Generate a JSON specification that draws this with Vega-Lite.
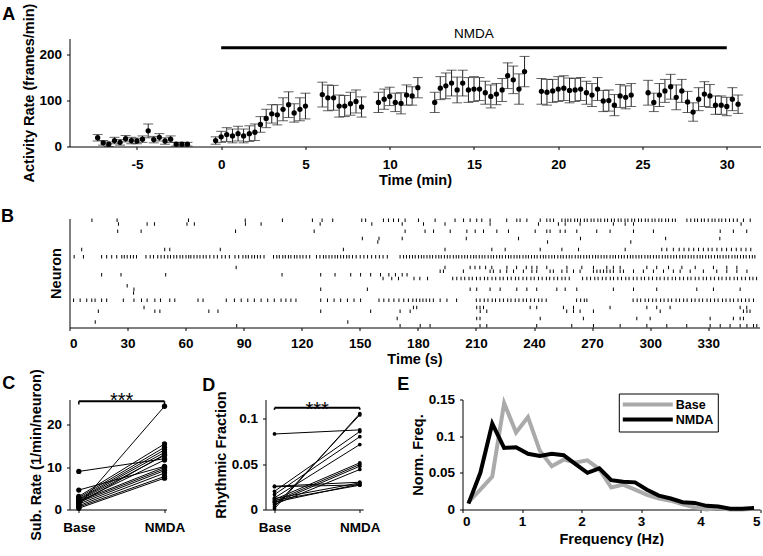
{
"$schema": "https://vega.github.io/schema/vega-lite/v6.json",
"padding": {"left": 0.5, "top": 2.5, "right": 0, "bottom": 0},
"bounds": "flush",
"spacing": 72,
"resolve": {"legend": {"color": "independent"}},
"config": {
 "view": {"stroke": null},
 "font": "Liberation Sans",
 "axis": {"labelFont": "Liberation Sans", "labelFontSize": 13.5, "labelFontWeight": "bold", "labelColor": "#000", "titleFont": "Liberation Sans", "titleFontSize": 14.5, "titleFontWeight": "bold", "titleColor": "#000", "domainColor": "#000", "tickColor": "#000", "tickSize": 3, "grid": false, "labelPadding": 5, "titlePadding": 3, "labelOverlap": false},
 "text": {"font": "Liberation Sans", "color": "#000"}
},
"datasets": {
 "actA": [
  {"t":-7.33,"v":19,"e":7},{"t":-7.0,"v":8,"e":5},{"t":-6.67,"v":5,"e":5},{"t":-6.33,"v":13,"e":7},{"t":-6.0,"v":9,"e":6},{"t":-5.67,"v":17,"e":7},{"t":-5.33,"v":13,"e":7},{"t":-5.0,"v":12,"e":6},{"t":-4.67,"v":16,"e":7},{"t":-4.33,"v":34,"e":15},{"t":-4.0,"v":15,"e":7},{"t":-3.67,"v":20,"e":8},{"t":-3.33,"v":12,"e":7},{"t":-3.0,"v":16,"e":7},{"t":-2.67,"v":5,"e":4},{"t":-2.33,"v":5,"e":4},{"t":-2.0,"v":5,"e":4},
  {"t":-0.33,"v":13,"e":8},{"t":0,"v":21,"e":12},{"t":0.33,"v":26,"e":15},{"t":0.67,"v":23,"e":15},{"t":1.0,"v":28,"e":16},{"t":1.33,"v":23,"e":15},{"t":1.67,"v":28,"e":17},{"t":2.0,"v":31,"e":18},{"t":2.33,"v":48,"e":17},{"t":2.67,"v":61,"e":20},{"t":3.0,"v":71,"e":20},{"t":3.33,"v":69,"e":22},{"t":3.67,"v":81,"e":25},{"t":4.0,"v":91,"e":28},{"t":4.33,"v":73,"e":20},{"t":4.67,"v":81,"e":25},{"t":5.0,"v":88,"e":28},
  {"t":6.0,"v":113,"e":27},{"t":6.33,"v":106,"e":28},{"t":6.67,"v":106,"e":27},{"t":7.0,"v":88,"e":24},{"t":7.33,"v":88,"e":23},{"t":7.67,"v":93,"e":25},{"t":8.0,"v":98,"e":25},{"t":8.33,"v":86,"e":22},
  {"t":9.33,"v":96,"e":22},{"t":9.67,"v":103,"e":22},{"t":10.0,"v":109,"e":20},{"t":10.33,"v":96,"e":20},{"t":10.67,"v":94,"e":23},{"t":11.0,"v":112,"e":22},{"t":11.33,"v":110,"e":20},{"t":11.67,"v":128,"e":22},
  {"t":12.67,"v":96,"e":22},{"t":13.0,"v":127,"e":25},{"t":13.33,"v":132,"e":28},{"t":13.67,"v":138,"e":28},{"t":14.0,"v":123,"e":28},{"t":14.33,"v":138,"e":28},{"t":14.67,"v":123,"e":27},{"t":15.0,"v":125,"e":27},{"t":15.33,"v":125,"e":25},{"t":15.67,"v":117,"e":25},{"t":16.0,"v":109,"e":25},{"t":16.33,"v":114,"e":23},{"t":16.67,"v":123,"e":25},{"t":17.0,"v":154,"e":28},{"t":17.33,"v":145,"e":30},{"t":17.67,"v":125,"e":33},{"t":18.0,"v":163,"e":33},
  {"t":19.0,"v":120,"e":28},{"t":19.33,"v":118,"e":28},{"t":19.67,"v":121,"e":25},{"t":20.0,"v":125,"e":27},{"t":20.33,"v":127,"e":27},{"t":20.67,"v":122,"e":27},{"t":21.0,"v":123,"e":25},{"t":21.33,"v":125,"e":25},{"t":21.67,"v":117,"e":25},{"t":22.0,"v":112,"e":25},{"t":22.33,"v":125,"e":25},{"t":22.67,"v":99,"e":23},{"t":23.0,"v":100,"e":23},{"t":23.33,"v":90,"e":23},{"t":23.67,"v":110,"e":25},{"t":24.0,"v":107,"e":25},{"t":24.33,"v":112,"e":25},
  {"t":25.33,"v":117,"e":27},{"t":25.67,"v":96,"e":20},{"t":26.0,"v":112,"e":25},{"t":26.33,"v":121,"e":25},{"t":26.67,"v":130,"e":27},{"t":27.0,"v":107,"e":27},{"t":27.33,"v":121,"e":25},{"t":27.67,"v":97,"e":23},{"t":28.0,"v":75,"e":20},{"t":28.33,"v":103,"e":25},{"t":28.67,"v":114,"e":27},{"t":29.0,"v":110,"e":25},{"t":29.33,"v":90,"e":20},{"t":29.67,"v":90,"e":20},{"t":30.0,"v":87,"e":20},{"t":30.33,"v":103,"e":25},{"t":30.67,"v":92,"e":20}
 ],
 "spikes": [
  {"t":11.6,"n":0},{"t":24.6,"n":0},{"t":61.5,"n":0},{"t":90.8,"n":0},{"t":110,"n":0},{"t":125.5,"n":0},{"t":130.5,"n":0},{"t":136,"n":0},{"t":151,"n":0},{"t":153,"n":0},{"t":162.2,"n":0},{"t":164.8,"n":0},{"t":167.4,"n":0},{"t":170,"n":0},{"t":173.4,"n":0},{"t":180.3,"n":0},{"t":188.9,"n":0},{"t":199.2,"n":0},{"t":203.6,"n":0},{"t":207,"n":0},{"t":210.4,"n":0},{"t":213,"n":0},{"t":217.3,"n":0},{"t":225.9,"n":0},{"t":231.1,"n":0},{"t":232.8,"n":0},{"t":236.3,"n":0},{"t":243.2,"n":0},{"t":246.6,"n":0},{"t":248.3,"n":0},{"t":250.1,"n":0},{"t":254.4,"n":0},{"t":256.1,"n":0},{"t":257.5,"n":0},{"t":259,"n":0},{"t":261,"n":0},{"t":262.5,"n":0},{"t":264,"n":0},{"t":266,"n":0},{"t":267.5,"n":0},{"t":269.5,"n":0},{"t":271,"n":0},{"t":273,"n":0},{"t":274.5,"n":0},{"t":276.5,"n":0},{"t":278,"n":0},{"t":280,"n":0},{"t":281.5,"n":0},{"t":283.5,"n":0},{"t":285,"n":0},{"t":287,"n":0},{"t":288.5,"n":0},{"t":290.5,"n":0},{"t":292,"n":0},{"t":294,"n":0},{"t":295.5,"n":0},{"t":297.5,"n":0},{"t":299,"n":0},{"t":301,"n":0},{"t":302.5,"n":0},{"t":304.5,"n":0},{"t":306,"n":0},{"t":308,"n":0},{"t":309.5,"n":0},{"t":311.5,"n":0},{"t":313,"n":0},{"t":319,"n":0},{"t":321,"n":0},{"t":323,"n":0},{"t":324.5,"n":0},{"t":326.5,"n":0},{"t":328,"n":0},{"t":330,"n":0},{"t":332,"n":0},{"t":333.5,"n":0},{"t":335.5,"n":0},{"t":337,"n":0},{"t":339,"n":0},{"t":341,"n":0},{"t":343,"n":0},{"t":345,"n":0},{"t":348.2,"n":0},{"t":351.7,"n":0},
  {"t":25.3,"n":1},{"t":40.1,"n":1},{"t":43.9,"n":1},{"t":60.7,"n":1},{"t":64.5,"n":1},{"t":90.9,"n":1},{"t":99,"n":1},{"t":129.5,"n":1},{"t":156.2,"n":1},{"t":171.9,"n":1},{"t":182.9,"n":1},{"t":194,"n":1},{"t":217.3,"n":1},{"t":242.3,"n":1},{"t":252.6,"n":1},{"t":256.1,"n":1},{"t":263.8,"n":1},{"t":281,"n":1},{"t":287.1,"n":1},{"t":291.4,"n":1},{"t":347,"n":1},
  {"t":24.9,"n":3},{"t":37,"n":3},{"t":85.8,"n":3},{"t":126.4,"n":3},{"t":173.4,"n":3},{"t":183.7,"n":3},{"t":188.1,"n":3},{"t":196.7,"n":3},{"t":205.3,"n":3},{"t":209.6,"n":3},{"t":213.9,"n":3},{"t":220.8,"n":3},{"t":226.8,"n":3},{"t":240.6,"n":3},{"t":246.6,"n":3},{"t":248.3,"n":3},{"t":253.5,"n":3},{"t":256.1,"n":3},{"t":262.1,"n":3},{"t":272.4,"n":3},{"t":279.3,"n":3},{"t":291.4,"n":3},{"t":301.7,"n":3},{"t":336.2,"n":3},{"t":343,"n":3},{"t":349.9,"n":3},
  {"t":151.3,"n":5},{"t":159.9,"n":5},{"t":171.9,"n":5},{"t":205,"n":5},{"t":232,"n":5},{"t":264,"n":5},{"t":308,"n":5},{"t":336,"n":5},
  {"t":159.3,"n":6},{"t":247,"n":6},{"t":290,"n":6},
  {"t":6.3,"n":8},{"t":49.2,"n":8},{"t":51.8,"n":8},{"t":77.9,"n":8},{"t":141.5,"n":8},{"t":194,"n":8},{"t":218.2,"n":8},{"t":225.1,"n":8},{"t":243.2,"n":8},{"t":254.4,"n":8},{"t":263,"n":8},{"t":287.1,"n":8},{"t":306,"n":8},{"t":308.6,"n":8},{"t":312,"n":8},{"t":315,"n":8},{"t":317.5,"n":8},{"t":320,"n":8},{"t":322.5,"n":8},{"t":325,"n":8},{"t":327.5,"n":8},{"t":330,"n":8},{"t":332,"n":8},{"t":334.5,"n":8},{"t":337,"n":8},{"t":339.5,"n":8},{"t":342,"n":8},{"t":344.5,"n":8},{"t":347,"n":8},{"t":349.5,"n":8},{"t":352,"n":8},
  {"t":2.4,"n":10},{"t":7.2,"n":10},{"t":16.6,"n":10},{"t":19.2,"n":10},{"t":21.8,"n":10},{"t":24.4,"n":10},{"t":27,"n":10},{"t":28.3,"n":10},{"t":29.8,"n":10},{"t":31.5,"n":10},{"t":33,"n":10},{"t":34.6,"n":10},{"t":39.5,"n":10},{"t":41.7,"n":10},{"t":43.4,"n":10},{"t":45.6,"n":10},{"t":47.3,"n":10},{"t":49,"n":10},{"t":50.8,"n":10},{"t":52.2,"n":10},{"t":53.9,"n":10},{"t":55.4,"n":10},{"t":57.1,"n":10},{"t":58.5,"n":10},{"t":60.2,"n":10},{"t":61.6,"n":10},{"t":62.7,"n":10},{"t":64.3,"n":10},{"t":65.9,"n":10},{"t":67.4,"n":10},{"t":69.1,"n":10},{"t":70.6,"n":10},{"t":72.5,"n":10},{"t":74.6,"n":10},{"t":76.4,"n":10},{"t":78.7,"n":10},{"t":80.5,"n":10},{"t":82.6,"n":10},{"t":85.5,"n":10},{"t":87.4,"n":10},{"t":89.6,"n":10},{"t":91.1,"n":10},{"t":92.4,"n":10},{"t":94.2,"n":10},{"t":95.6,"n":10},{"t":97.1,"n":10},{"t":98.6,"n":10},{"t":100.5,"n":10},{"t":105.4,"n":10},{"t":107.1,"n":10},{"t":108.4,"n":10},{"t":110.2,"n":10},{"t":111.5,"n":10},{"t":113.1,"n":10},{"t":114.4,"n":10},{"t":116.2,"n":10},{"t":117.5,"n":10},{"t":119.1,"n":10},{"t":120.6,"n":10},{"t":122.3,"n":10},{"t":124.1,"n":10},{"t":127.6,"n":10},{"t":129.4,"n":10},{"t":131.2,"n":10},{"t":132.5,"n":10},{"t":134.1,"n":10},{"t":135.6,"n":10},{"t":137.2,"n":10},{"t":138.5,"n":10},{"t":140.1,"n":10},{"t":141.6,"n":10},{"t":143.2,"n":10},{"t":144.5,"n":10},{"t":146.2,"n":10},{"t":148.1,"n":10},{"t":150.2,"n":10},{"t":152.1,"n":10},{"t":154,"n":10},{"t":156.1,"n":10},{"t":158.2,"n":10},{"t":160.1,"n":10},{"t":162,"n":10},{"t":164.2,"n":10},{"t":170.8,"n":10},{"t":172.6,"n":10},{"t":174.1,"n":10},{"t":175.7,"n":10},{"t":177.2,"n":10},{"t":178.6,"n":10},{"t":180.3,"n":10},{"t":181.8,"n":10},{"t":183.1,"n":10},{"t":184.7,"n":10},{"t":186.2,"n":10},{"t":187.6,"n":10},{"t":189.3,"n":10},{"t":190.8,"n":10},{"t":192.1,"n":10},{"t":193.7,"n":10},{"t":195.2,"n":10},{"t":196.6,"n":10},{"t":198.3,"n":10},{"t":199.8,"n":10},{"t":201.1,"n":10},{"t":202.7,"n":10},{"t":204.2,"n":10},{"t":205.6,"n":10},{"t":207.3,"n":10},{"t":208.8,"n":10},{"t":210.1,"n":10},{"t":211.7,"n":10},{"t":213.2,"n":10},{"t":214.6,"n":10},{"t":216.3,"n":10},{"t":217.8,"n":10},{"t":219.1,"n":10},{"t":220.7,"n":10},{"t":222.2,"n":10},{"t":223.6,"n":10},{"t":225.3,"n":10},{"t":226.8,"n":10},{"t":228.1,"n":10},{"t":229.7,"n":10},{"t":231.2,"n":10},{"t":232.6,"n":10},{"t":234.3,"n":10},{"t":235.8,"n":10},{"t":237.1,"n":10},{"t":238.7,"n":10},{"t":240.2,"n":10},{"t":241.6,"n":10},{"t":243.3,"n":10},{"t":244.8,"n":10},{"t":246.1,"n":10},{"t":247.7,"n":10},{"t":249.2,"n":10},{"t":250.6,"n":10},{"t":252.3,"n":10},{"t":253.8,"n":10},{"t":255.1,"n":10},{"t":256.7,"n":10},{"t":258.2,"n":10},{"t":259.6,"n":10},{"t":261.3,"n":10},{"t":262.8,"n":10},{"t":264.1,"n":10},{"t":265.7,"n":10},{"t":267.2,"n":10},{"t":268.6,"n":10},{"t":270.3,"n":10},{"t":271.8,"n":10},{"t":273.1,"n":10},{"t":274.7,"n":10},{"t":276.2,"n":10},{"t":277.6,"n":10},{"t":279.3,"n":10},{"t":280.8,"n":10},{"t":282.1,"n":10},{"t":283.7,"n":10},{"t":285.2,"n":10},{"t":286.6,"n":10},{"t":288.3,"n":10},{"t":289.8,"n":10},{"t":291.1,"n":10},{"t":292.7,"n":10},{"t":294.2,"n":10},{"t":295.6,"n":10},{"t":297.3,"n":10},{"t":298.8,"n":10},{"t":300.1,"n":10},{"t":301.7,"n":10},{"t":303.2,"n":10},{"t":304.6,"n":10},{"t":306.3,"n":10},{"t":307.8,"n":10},{"t":309.1,"n":10},{"t":310.7,"n":10},{"t":312.2,"n":10},{"t":313.6,"n":10},{"t":315.3,"n":10},{"t":316.8,"n":10},{"t":318.1,"n":10},{"t":319.7,"n":10},{"t":321.2,"n":10},{"t":322.6,"n":10},{"t":324.3,"n":10},{"t":325.8,"n":10},{"t":327.1,"n":10},{"t":328.7,"n":10},{"t":330.2,"n":10},{"t":331.6,"n":10},{"t":333.3,"n":10},{"t":334.8,"n":10},{"t":336.1,"n":10},{"t":337.7,"n":10},{"t":339.2,"n":10},{"t":340.6,"n":10},{"t":342.3,"n":10},{"t":343.8,"n":10},{"t":345.1,"n":10},{"t":346.7,"n":10},{"t":348.2,"n":10},{"t":349.6,"n":10},{"t":351.3,"n":10},{"t":352.8,"n":10},{"t":354.1,"n":10},
  {"t":86.1,"n":13},{"t":194,"n":13},{"t":207,"n":13},{"t":209.5,"n":13},{"t":212,"n":13},{"t":215,"n":13},{"t":218.2,"n":13},{"t":226,"n":13},{"t":231,"n":13},{"t":236,"n":13},{"t":238.9,"n":13},{"t":241.5,"n":13},{"t":246.6,"n":13},{"t":257,"n":13},{"t":264.7,"n":13},{"t":270.7,"n":13},{"t":277.6,"n":13},{"t":281,"n":13},{"t":284.5,"n":13},{"t":298.3,"n":13},{"t":303.4,"n":13},{"t":309.5,"n":13},{"t":316.4,"n":13},{"t":323.3,"n":13},{"t":332.7,"n":13},{"t":339.6,"n":13},{"t":344.8,"n":13},
  {"t":191.5,"n":14},{"t":193.2,"n":14},{"t":203.5,"n":14},{"t":217.3,"n":14},{"t":219,"n":14},{"t":222.5,"n":14},{"t":225.9,"n":14},{"t":229.4,"n":14},{"t":234.5,"n":14},{"t":238.9,"n":14},{"t":241.4,"n":14},{"t":248.3,"n":14},{"t":250,"n":14},{"t":254.4,"n":14},{"t":257,"n":14},{"t":260.4,"n":14},{"t":263.8,"n":14},{"t":270.7,"n":14},{"t":272.5,"n":14},{"t":274.2,"n":14},{"t":275.9,"n":14},{"t":277.6,"n":14},{"t":279.3,"n":14},{"t":281,"n":14},{"t":284.5,"n":14},{"t":286.2,"n":14},{"t":291.4,"n":14},{"t":296.5,"n":14},{"t":301.7,"n":14},{"t":306.9,"n":14},{"t":312,"n":14},{"t":315.5,"n":14},{"t":320.7,"n":14},{"t":327.5,"n":14},{"t":334.4,"n":14},{"t":339.6,"n":14},{"t":344.8,"n":14},{"t":350,"n":14},
  {"t":16.6,"n":15},{"t":26.6,"n":15},{"t":49.7,"n":15},{"t":109.8,"n":15},{"t":129.8,"n":15},{"t":137.2,"n":15},{"t":145.3,"n":15},{"t":150.4,"n":15},{"t":155.6,"n":15},{"t":160.7,"n":15},{"t":165,"n":15},{"t":168.4,"n":15},{"t":171.9,"n":15},{"t":174.4,"n":15},
  {"t":162,"n":16},{"t":166.5,"n":16},{"t":170,"n":16},{"t":178,"n":16},{"t":181,"n":16},{"t":185,"n":16},{"t":198,"n":16},{"t":200.1,"n":16},{"t":202.3,"n":16},{"t":204.2,"n":16},{"t":206.4,"n":16},{"t":208.1,"n":16},{"t":210.3,"n":16},{"t":212.2,"n":16},{"t":214.4,"n":16},{"t":216.1,"n":16},{"t":218.3,"n":16},{"t":220.2,"n":16},{"t":222.4,"n":16},{"t":224.1,"n":16},{"t":226.3,"n":16},{"t":228.2,"n":16},{"t":230.4,"n":16},{"t":232.1,"n":16},{"t":234.3,"n":16},{"t":236.2,"n":16},{"t":238.4,"n":16},{"t":240.1,"n":16},{"t":242.3,"n":16},{"t":244.2,"n":16},{"t":246.4,"n":16},{"t":248.1,"n":16},{"t":250.3,"n":16},{"t":252.2,"n":16},{"t":254.4,"n":16},{"t":256.1,"n":16},{"t":258.2,"n":16},{"t":265.1,"n":16},{"t":267.3,"n":16},{"t":269.2,"n":16},{"t":271.4,"n":16},{"t":273.1,"n":16},{"t":275.3,"n":16},{"t":277.2,"n":16},{"t":279.4,"n":16},{"t":281.1,"n":16},{"t":283.3,"n":16},{"t":285.2,"n":16},{"t":287.4,"n":16},{"t":289.1,"n":16},{"t":291.3,"n":16},{"t":293.2,"n":16},{"t":295.4,"n":16},{"t":297.1,"n":16},{"t":299.3,"n":16},{"t":301.2,"n":16},{"t":303.4,"n":16},{"t":305.1,"n":16},{"t":307.3,"n":16},{"t":309.2,"n":16},{"t":311.4,"n":16},{"t":313.1,"n":16},{"t":315.3,"n":16},{"t":317.2,"n":16},{"t":319.4,"n":16},{"t":321.1,"n":16},{"t":323.3,"n":16},{"t":325.2,"n":16},{"t":327.4,"n":16},{"t":329.1,"n":16},{"t":331.3,"n":16},{"t":333.2,"n":16},{"t":335.4,"n":16},{"t":337.1,"n":16},{"t":339.3,"n":16},{"t":341.2,"n":16},{"t":343.4,"n":16},{"t":345.1,"n":16},{"t":347.3,"n":16},{"t":349.2,"n":16},{"t":351.4,"n":16},{"t":353.1,"n":16},{"t":355,"n":16},
  {"t":29.8,"n":18},
  {"t":33.3,"n":19},{"t":129.8,"n":19},{"t":153.9,"n":19},{"t":207,"n":19},{"t":210.4,"n":19},{"t":217.3,"n":19},{"t":222.5,"n":19},{"t":231.1,"n":19},{"t":236.3,"n":19},{"t":241.4,"n":19},{"t":251.8,"n":19},{"t":256.1,"n":19},{"t":262.1,"n":19},{"t":281,"n":19},{"t":291.4,"n":19},{"t":303.4,"n":19},{"t":324.1,"n":19},{"t":332.7,"n":19},{"t":346.5,"n":19},
  {"t":33.1,"n":20},
  {"t":2.1,"n":22},{"t":5.5,"n":22},{"t":8.9,"n":22},{"t":11.5,"n":22},{"t":13.2,"n":22},{"t":16.6,"n":22},{"t":19.2,"n":22},{"t":27.8,"n":22},{"t":33.3,"n":22},{"t":37.2,"n":22},{"t":40.1,"n":22},{"t":44.1,"n":22},{"t":47,"n":22},{"t":51.8,"n":22},{"t":54.4,"n":22},{"t":66.4,"n":22},{"t":69,"n":22},{"t":81,"n":22},{"t":85.2,"n":22},{"t":88.7,"n":22},{"t":92.1,"n":22},{"t":95.5,"n":22},{"t":99,"n":22},{"t":102.4,"n":22},{"t":105.8,"n":22},{"t":109.3,"n":22},{"t":111.8,"n":22},{"t":114.4,"n":22},{"t":117,"n":22},{"t":129.8,"n":22},{"t":133.3,"n":22},{"t":136.7,"n":22},{"t":140.1,"n":22},{"t":143.6,"n":22},{"t":147,"n":22},{"t":150.4,"n":22},{"t":159.9,"n":22},{"t":162.4,"n":22},{"t":165,"n":22},{"t":167.6,"n":22},{"t":170.2,"n":22},{"t":172.7,"n":22},{"t":175.1,"n":22},{"t":177.4,"n":22},{"t":179.2,"n":22},{"t":181,"n":22},{"t":182.6,"n":22},{"t":184.3,"n":22},{"t":186.1,"n":22},{"t":188,"n":22},{"t":191.5,"n":22},{"t":195,"n":22},{"t":200,"n":22},{"t":210.2,"n":22},{"t":212.1,"n":22},{"t":214.3,"n":22},{"t":216.2,"n":22},{"t":218.4,"n":22},{"t":220.1,"n":22},{"t":222.3,"n":22},{"t":224.2,"n":22},{"t":226.4,"n":22},{"t":228.1,"n":22},{"t":230.3,"n":22},{"t":232.2,"n":22},{"t":234.4,"n":22},{"t":236.1,"n":22},{"t":238.3,"n":22},{"t":240.2,"n":22},{"t":242.4,"n":22},{"t":244.1,"n":22},{"t":246.3,"n":22},{"t":262,"n":22},{"t":264.1,"n":22},{"t":266,"n":22},{"t":267.3,"n":22},{"t":291.2,"n":22},{"t":293.3,"n":22},{"t":295.1,"n":22},{"t":297.4,"n":22},{"t":299.2,"n":22},{"t":301.3,"n":22},{"t":303.1,"n":22},{"t":305.4,"n":22},{"t":307.2,"n":22},{"t":309.3,"n":22},{"t":311.1,"n":22},{"t":313.4,"n":22},{"t":315.2,"n":22},{"t":317.3,"n":22},{"t":319.1,"n":22},{"t":321.4,"n":22},{"t":323.2,"n":22},{"t":325.3,"n":22},{"t":327.1,"n":22},{"t":329.4,"n":22},{"t":331.2,"n":22},{"t":333.3,"n":22},{"t":335.1,"n":22},{"t":337.4,"n":22},{"t":339.2,"n":22},{"t":341.3,"n":22},{"t":343.1,"n":22},{"t":345.4,"n":22},{"t":347.2,"n":22},{"t":349.3,"n":22},{"t":351.1,"n":22},{"t":353.4,"n":22},
  {"t":38.5,"n":24},{"t":177.7,"n":24},{"t":179.4,"n":24},{"t":210.4,"n":24},{"t":212.1,"n":24},{"t":213.9,"n":24},{"t":238,"n":24},{"t":241.4,"n":24},{"t":255.2,"n":24},{"t":260.4,"n":24},{"t":279.3,"n":24},{"t":298.3,"n":24},{"t":303.4,"n":24},{"t":310.3,"n":24},{"t":346.5,"n":24},{"t":349.9,"n":24},
  {"t":14.9,"n":25},{"t":44.1,"n":25},{"t":46.7,"n":25},{"t":72,"n":25},{"t":76.7,"n":25},{"t":129.8,"n":25},{"t":155.6,"n":25},{"t":170.8,"n":25},{"t":176,"n":25},{"t":212.2,"n":25},{"t":215.6,"n":25},{"t":256.9,"n":25},{"t":260.4,"n":25},{"t":263.8,"n":25},{"t":270.7,"n":25},{"t":305.2,"n":25},{"t":348.2,"n":25},{"t":350,"n":25},{"t":351.6,"n":25},
  {"t":169.3,"n":27},{"t":210.4,"n":27},{"t":212.1,"n":27},{"t":243.2,"n":27},{"t":265.5,"n":27},{"t":293.1,"n":27},{"t":300,"n":27},{"t":331,"n":27},{"t":343,"n":27},{"t":346.5,"n":27},{"t":348.2,"n":27},
  {"t":13.3,"n":28},{"t":143.8,"n":28},
  {"t":86.4,"n":29},{"t":170.8,"n":29},{"t":181.2,"n":29},{"t":186.3,"n":29},{"t":212.1,"n":29},{"t":215.6,"n":29},{"t":241.4,"n":29},{"t":259.5,"n":29},{"t":270.7,"n":29},{"t":284.5,"n":29},{"t":298.3,"n":29},{"t":308.6,"n":29},{"t":318.9,"n":29},{"t":331,"n":29},{"t":336.2,"n":29},{"t":341.3,"n":29},{"t":346.5,"n":29},{"t":350,"n":29},{"t":353.4,"n":29},{"t":355.1,"n":29}
 ],
 "subC": [
  {"id":1,"g":"Base","v":9.0},{"id":1,"g":"NMDA","v":12.0},
  {"id":2,"g":"Base","v":1.0},{"id":2,"g":"NMDA","v":24.4},
  {"id":3,"g":"Base","v":4.6},{"id":3,"g":"NMDA","v":10.2},
  {"id":4,"g":"Base","v":3.1},{"id":4,"g":"NMDA","v":15.5},
  {"id":5,"g":"Base","v":2.8},{"id":5,"g":"NMDA","v":14.7},
  {"id":6,"g":"Base","v":2.5},{"id":6,"g":"NMDA","v":14.1},
  {"id":7,"g":"Base","v":2.3},{"id":7,"g":"NMDA","v":13.5},
  {"id":8,"g":"Base","v":2.1},{"id":8,"g":"NMDA","v":12.8},
  {"id":9,"g":"Base","v":1.9},{"id":9,"g":"NMDA","v":11.7},
  {"id":10,"g":"Base","v":1.7},{"id":10,"g":"NMDA","v":9.6},
  {"id":11,"g":"Base","v":1.5},{"id":11,"g":"NMDA","v":13.0},
  {"id":12,"g":"Base","v":1.3},{"id":12,"g":"NMDA","v":9.2},
  {"id":13,"g":"Base","v":0.9},{"id":13,"g":"NMDA","v":8.6},
  {"id":14,"g":"Base","v":0.6},{"id":14,"g":"NMDA","v":7.8},
  {"id":15,"g":"Base","v":0.3},{"id":15,"g":"NMDA","v":7.4},
  {"id":16,"g":"Base","v":2.0},{"id":16,"g":"NMDA","v":10.0}
 ],
 "rhyD": [
  {"id":1,"g":"Base","v":0.083},{"id":1,"g":"NMDA","v":0.0875},
  {"id":2,"g":"Base","v":0.0256},{"id":2,"g":"NMDA","v":0.030},
  {"id":3,"g":"Base","v":0.001},{"id":3,"g":"NMDA","v":0.1055},
  {"id":4,"g":"Base","v":0.003},{"id":4,"g":"NMDA","v":0.104},
  {"id":5,"g":"Base","v":0.020},{"id":5,"g":"NMDA","v":0.0857},
  {"id":6,"g":"Base","v":0.0165},{"id":6,"g":"NMDA","v":0.080},
  {"id":7,"g":"Base","v":0.0128},{"id":7,"g":"NMDA","v":0.0714},
  {"id":8,"g":"Base","v":0.011},{"id":8,"g":"NMDA","v":0.0513},
  {"id":9,"g":"Base","v":0.009},{"id":9,"g":"NMDA","v":0.0495},
  {"id":10,"g":"Base","v":0.0073},{"id":10,"g":"NMDA","v":0.0476},
  {"id":11,"g":"Base","v":0.0055},{"id":11,"g":"NMDA","v":0.044},
  {"id":12,"g":"Base","v":0.012},{"id":12,"g":"NMDA","v":0.0293},
  {"id":13,"g":"Base","v":0.010},{"id":13,"g":"NMDA","v":0.0267},
  {"id":14,"g":"Base","v":0.008},{"id":14,"g":"NMDA","v":0.028},
  {"id":15,"g":"Base","v":0.025},{"id":15,"g":"NMDA","v":0.027}
 ],
 "freqE": [
  {"s":"Base","f":0.1,"p":0.010},{"s":"Base","f":0.3,"p":0.027},{"s":"Base","f":0.5,"p":0.045},{"s":"Base","f":0.7,"p":0.145},{"s":"Base","f":0.9,"p":0.105},{"s":"Base","f":1.1,"p":0.126},{"s":"Base","f":1.3,"p":0.080},{"s":"Base","f":1.5,"p":0.059},{"s":"Base","f":1.7,"p":0.068},{"s":"Base","f":1.9,"p":0.064},{"s":"Base","f":2.1,"p":0.067},{"s":"Base","f":2.3,"p":0.055},{"s":"Base","f":2.5,"p":0.030},{"s":"Base","f":2.7,"p":0.034},{"s":"Base","f":2.9,"p":0.027},{"s":"Base","f":3.1,"p":0.020},{"s":"Base","f":3.3,"p":0.015},{"s":"Base","f":3.5,"p":0.012},{"s":"Base","f":3.7,"p":0.007},{"s":"Base","f":3.9,"p":0.003},{"s":"Base","f":4.1,"p":0.000},{"s":"Base","f":4.3,"p":0.002},{"s":"Base","f":4.5,"p":0.000},{"s":"Base","f":4.7,"p":0.000},{"s":"Base","f":4.9,"p":0.001},
  {"s":"NMDA","f":0.1,"p":0.008},{"s":"NMDA","f":0.3,"p":0.050},{"s":"NMDA","f":0.5,"p":0.117},{"s":"NMDA","f":0.7,"p":0.084},{"s":"NMDA","f":0.9,"p":0.085},{"s":"NMDA","f":1.1,"p":0.076},{"s":"NMDA","f":1.3,"p":0.073},{"s":"NMDA","f":1.5,"p":0.076},{"s":"NMDA","f":1.7,"p":0.074},{"s":"NMDA","f":1.9,"p":0.062},{"s":"NMDA","f":2.1,"p":0.050},{"s":"NMDA","f":2.3,"p":0.056},{"s":"NMDA","f":2.5,"p":0.040},{"s":"NMDA","f":2.7,"p":0.038},{"s":"NMDA","f":2.9,"p":0.037},{"s":"NMDA","f":3.1,"p":0.027},{"s":"NMDA","f":3.3,"p":0.019},{"s":"NMDA","f":3.5,"p":0.015},{"s":"NMDA","f":3.7,"p":0.010},{"s":"NMDA","f":3.9,"p":0.009},{"s":"NMDA","f":4.1,"p":0.005},{"s":"NMDA","f":4.3,"p":0.004},{"s":"NMDA","f":4.5,"p":0.001},{"s":"NMDA","f":4.7,"p":0.001},{"s":"NMDA","f":4.9,"p":0.002}
 ]
},
"vconcat": [
 {
  "width": 691, "height": 108,
  "layer": [
   {"data": {"name": "actA"}, "mark": {"type": "errorbar", "color": "#222", "ticks": {"size": 10, "color": "#222"}},
    "encoding": {
     "x": {"field": "t", "type": "quantitative", "scale": {"domain": [-9, 32], "nice": false}, "axis": {"values": [-5,0,5,10,15,20,25,30], "title": "Time (min)", "labelPadding": 8, "titlePadding": 2, "labelExpr": "datum.value < 0 ? '-' + abs(datum.value) : '' + datum.value"}},
     "y": {"field": "v", "type": "quantitative", "scale": {"domain": [0, 235], "nice": false}, "axis": {"values": [0,100,200], "title": "Activity Rate (frames/min)", "titlePadding": 2}},
     "yError": {"field": "e"}
    }},
   {"data": {"name": "actA"}, "mark": {"type": "point", "filled": true, "size": 28, "color": "#000", "opacity": 1},
    "encoding": {"x": {"field": "t", "type": "quantitative"}, "y": {"field": "v", "type": "quantitative"}}},
   {"data": {"values": [{}]}, "mark": {"type": "rule", "strokeWidth": 3, "color": "#000"},
    "encoding": {"x": {"datum": 0}, "x2": {"datum": 30}, "y": {"datum": 215}}},
   {"data": {"values": [{}]}, "mark": {"type": "text", "text": "NMDA", "fontSize": 13.5, "baseline": "middle", "align": "center"},
    "encoding": {"x": {"datum": 15}, "y": {"datum": 245.6}}},
   {"data": {"values": [{}]}, "mark": {"type": "text", "text": "A", "fontSize": 18, "fontWeight": "bold", "baseline": "top", "align": "left"},
    "encoding": {"x": {"datum": -12.99}, "y": {"datum": 304.8}}}
  ]
 },
 {
  "width": 690, "height": 109,
  "layer": [
   {"data": {"name": "spikes"}, "mark": {"type": "tick", "orient": "vertical", "size": 3.5, "thickness": 1, "color": "#000", "opacity": 1},
    "encoding": {
     "x": {"field": "t", "type": "quantitative", "scale": {"domain": [0, 356.5], "nice": false}, "axis": {"values": [0,30,60,90,120,150,180,210,240,270,300,330], "title": "Time (s)", "labelPadding": 6, "titlePadding": 2}},
     "y": {"field": "n", "type": "quantitative", "scale": {"domain": [-0.5, 29.5], "reverse": true, "nice": false}, "axis": {"title": "Neuron", "labels": false, "ticks": false, "titlePadding": 6}}
    }},
   {"data": {"values": [{}]}, "mark": {"type": "text", "text": "B", "fontSize": 18, "fontWeight": "bold", "baseline": "top", "align": "left"},
    "encoding": {"x": {"datum": -35.4}, "y": {"datum": -3.28}}}
  ]
 },
 {
  "hconcat": [
   {
    "width": 97, "height": 110,
    "layer": [
     {"data": {"name": "subC"}, "mark": {"type": "line", "color": "#000", "strokeWidth": 1},
      "encoding": {
       "x": {"field": "g", "type": "nominal", "scale": {"type": "point", "domain": ["Base","NMDA"], "padding": 0.066, "align": 0.823}, "axis": {"title": null, "labelAngle": 0, "labelPadding": 8}},
       "y": {"field": "v", "type": "quantitative", "scale": {"domain": [0, 26], "nice": false}, "axis": {"values": [0,10,20], "title": "Sub. Rate (1/min/neuron)", "titlePadding": 3}},
       "detail": {"field": "id"}
      }},
     {"data": {"name": "subC"}, "mark": {"type": "point", "filled": true, "size": 28, "color": "#000", "opacity": 1},
      "encoding": {"x": {"field": "g", "type": "nominal"}, "y": {"field": "v", "type": "quantitative"}}},
     {"data": {"values": [{}]}, "mark": {"type": "rule", "strokeWidth": 2, "color": "#000"},
      "encoding": {"x": {"datum": "Base"}, "x2": {"datum": "NMDA"}, "y": {"datum": 25.6}}},
     {"data": {"values": [{}]}, "mark": {"type": "rule", "strokeWidth": 1.5, "color": "#000"},
      "encoding": {"x": {"datum": "Base"}, "y": {"datum": 25.6}, "y2": {"datum": 24.8}}},
     {"data": {"values": [{}]}, "mark": {"type": "rule", "strokeWidth": 1.5, "color": "#000"},
      "encoding": {"x": {"datum": "NMDA"}, "y": {"datum": 25.6}, "y2": {"datum": 24.8}}},
     {"data": {"values": [{}]}, "mark": {"type": "text", "text": "***", "fontSize": 20, "baseline": "alphabetic", "align": "center", "dx": 42.8},
      "encoding": {"x": {"datum": "Base"}, "y": {"datum": 24.2}}},
     {"data": {"values": [{}]}, "mark": {"type": "text", "text": "C", "fontSize": 18, "fontWeight": "bold", "baseline": "top", "align": "left", "dx": -76.6},
      "encoding": {"x": {"datum": "Base"}, "y": {"datum": 31.9}}}
    ]
   },
   {
    "width": 97.7, "height": 110,
    "layer": [
     {"data": {"name": "rhyD"}, "mark": {"type": "line", "color": "#000", "strokeWidth": 1},
      "encoding": {
       "x": {"field": "g", "type": "nominal", "scale": {"type": "point", "domain": ["Base","NMDA"], "padding": 0.0727, "align": 0.726}, "axis": {"title": null, "labelAngle": 0, "labelPadding": 8}},
       "y": {"field": "v", "type": "quantitative", "scale": {"domain": [0, 0.1209], "nice": false}, "axis": {"values": [0,0.05,0.1], "labelExpr": "format(datum.value, '.2~f')", "title": "Rhythmic Fraction", "titlePadding": 3}},
       "detail": {"field": "id"}
      }},
     {"data": {"name": "rhyD"}, "mark": {"type": "point", "filled": true, "size": 14, "color": "#000", "opacity": 1},
      "encoding": {"x": {"field": "g", "type": "nominal"}, "y": {"field": "v", "type": "quantitative"}}},
     {"data": {"values": [{}]}, "mark": {"type": "rule", "strokeWidth": 2, "color": "#000"},
      "encoding": {"x": {"datum": "Base"}, "x2": {"datum": "NMDA"}, "y": {"datum": 0.1117}}},
     {"data": {"values": [{}]}, "mark": {"type": "rule", "strokeWidth": 1.5, "color": "#000"},
      "encoding": {"x": {"datum": "Base"}, "y": {"datum": 0.1117}, "y2": {"datum": 0.1095}}},
     {"data": {"values": [{}]}, "mark": {"type": "rule", "strokeWidth": 1.5, "color": "#000"},
      "encoding": {"x": {"datum": "NMDA"}, "y": {"datum": 0.1117}, "y2": {"datum": 0.1095}}},
     {"data": {"values": [{}]}, "mark": {"type": "text", "text": "***", "fontSize": 20, "baseline": "alphabetic", "align": "center", "dx": 42.6},
      "encoding": {"x": {"datum": "Base"}, "y": {"datum": 0.103}}},
     {"data": {"values": [{}]}, "mark": {"type": "text", "text": "D", "fontSize": 18, "fontWeight": "bold", "baseline": "top", "align": "left", "dx": -72.3},
      "encoding": {"x": {"datum": "Base"}, "y": {"datum": 0.1455}}},
     {"data": {"values": [{}]}, "mark": {"type": "text", "text": "E", "fontSize": 18, "fontWeight": "bold", "baseline": "top", "align": "left", "dx": 122.7},
      "encoding": {"x": {"datum": "Base"}, "y": {"datum": 0.1466}}}
    ]
   },
   {
    "width": 297.5, "height": 110,
    "data": {"name": "freqE"},
    "mark": {"type": "line", "strokeWidth": 4},
    "encoding": {
     "x": {"field": "f", "type": "quantitative", "scale": {"domain": [0, 5], "nice": false}, "axis": {"values": [0,1,2,3,4,5], "labelExpr": "'' + datum.value", "title": "Frequency (Hz)", "labelPadding": 2, "titlePadding": 4}},
     "y": {"field": "p", "type": "quantitative", "scale": {"domain": [0, 0.15], "nice": false}, "axis": {"values": [0,0.05,0.1,0.15], "labelExpr": "format(datum.value, '.2~f')", "labelOverlap": false, "labelBound": false, "labelFlush": false, "title": "Norm. Freq.", "titlePadding": 3}},
     "color": {"field": "s", "type": "nominal", "scale": {"domain": ["Base","NMDA"], "range": ["#aaaaaa","#000000"]},
      "legend": {"title": null, "orient": "none", "legendX": 156.3, "legendY": -6, "symbolType": "M-5,0H5", "symbolSize": 100, "symbolStrokeWidth": 4, "symbolOffset": 18, "labelFont": "Liberation Sans", "labelFontSize": 12.5, "labelFontWeight": "bold", "labelColor": "#000", "labelOffset": 21, "padding": 4, "rowPadding": -1.5, "strokeColor": "#000", "fillColor": "#fff"}}
    }
   }
  ],
  "spacing": 99,
  "bounds": "flush",
  "resolve": {"legend": {"color": "independent"}}
 }
]
}
